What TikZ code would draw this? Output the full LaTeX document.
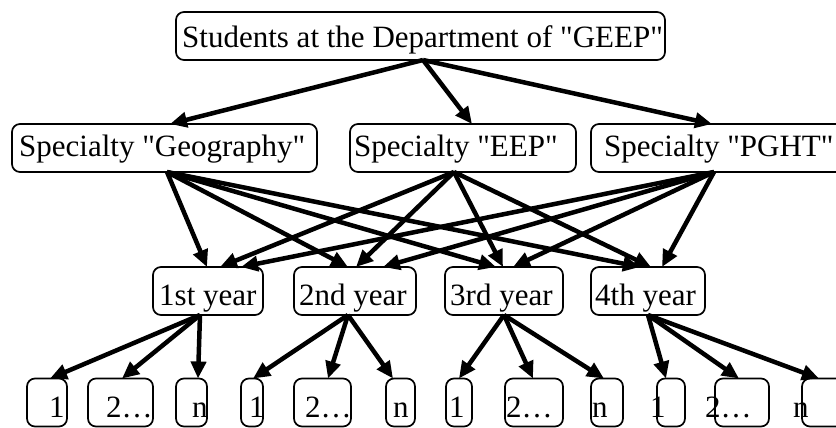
\documentclass[tikz,border=0pt]{standalone}
\usepackage{fontspec}
\setmainfont{Liberation Serif}[Ligatures=TeXOff]
\usetikzlibrary{arrows.meta}
\newcommand{\qq}{\symbol{34}}
\begin{document}
\begin{tikzpicture}[x=1pt,y=-1pt,
 box/.style={draw, line width=1.7pt, rounded corners=8pt, inner sep=0pt, outer sep=0pt, minimum height=48pt},
 lbl/.style={anchor=base west, inner sep=0pt, font=\fontsize{31}{37}\selectfont},
 arr/.style={line width=4.5pt, -{Triangle[length=17pt,width=15pt]}}]
\useasboundingbox (0,0) rectangle (836,428);
% boxes
\node[box, minimum width=489pt] (top) at (420.5,36) {};
\node[box, minimum width=305pt] (geo) at (164.5,148) {};
\node[box, minimum width=226pt] (eep) at (463,148) {};
\node[box, minimum width=259pt] (pght) at (720.5,148) {};
\node[box, minimum width=110pt] (yr1) at (208,291) {};
\node[box, minimum width=122pt] (yr2) at (355,291) {};
\node[box, minimum width=118pt] (yr3) at (504,291) {};
\node[box, minimum width=114pt] (yr4) at (648,291) {};
\begin{scope}[every node/.append style={minimum height=49pt}]
\node[box, minimum width=40pt] (b11) at (47,402.5) {};
\node[box, minimum width=65pt] (b12) at (120.5,402.5) {};
\node[box, minimum width=31pt] (b13) at (191.5,402.5) {};
\node[box, minimum width=22pt] (b21) at (252,402.5) {};
\node[box, minimum width=57pt] (b22) at (322.5,402.5) {};
\node[box, minimum width=29pt] (b23) at (400.5,402.5) {};
\node[box, minimum width=26pt] (b31) at (459,402.5) {};
\node[box, minimum width=58pt] (b32) at (534,402.5) {};
\node[box, minimum width=32pt] (b33) at (607,402.5) {};
\node[box, minimum width=28pt] (b41) at (671,402.5) {};
\node[box, minimum width=54pt] (b42) at (742,402.5) {};
\node[box, minimum width=48pt] (b43) at (826,402.5) {};
\end{scope}
% labels
\node[lbl] (ttop) at (182,48) {Students at the Department of \qq GEEP\qq};
\node[lbl] (tgeo) at (19,157) {Specialty \qq Geography\qq};
\node[lbl] (teep) at (354,157) {Specialty \qq EEP\qq};
\node[lbl] (tpght) at (604,157) {Specialty \qq PGHT\qq};
\node[lbl] (tyr1) at (159,305) {1st year};
\node[lbl] (tyr2) at (299,305) {2nd year};
\node[lbl] (tyr3) at (450,305) {3rd year};
\node[lbl] (tyr4) at (595,305) {4th year};
\node[lbl] (t11) at (49,417) {1};
\node[lbl] (t12) at (106,417) {2…};
\node[lbl] (t13) at (192,417) {n};
\node[lbl] (t21) at (249,417) {1};
\node[lbl] (t22) at (305,417) {2…};
\node[lbl] (t23) at (393,417) {n};
\node[lbl] (t31) at (449,417) {1};
\node[lbl] (t32) at (506,417) {2…};
\node[lbl] (t33) at (592,417) {n};
\node[lbl] (t41) at (650,417) {1};
\node[lbl] (t42) at (705,417) {2…};
\node[lbl] (t43) at (793,417) {n};
% arrows top -> specialties
\draw[arr] ([xshift=2.5pt]top.south) -- ([xshift=5.5pt]geo.north);
\draw[arr] ([xshift=2.5pt]top.south) -- ([xshift=9pt]eep.north);
\draw[arr] ([xshift=2.5pt]top.south) -- ([xshift=-8.5pt]pght.north);
% specialties -> years
\draw[arr] ([xshift=2.5pt]geo.south) -- ([xshift=-1pt]yr1.north);
\draw[arr] ([xshift=2.5pt]geo.south) -- ([xshift=-7pt]yr2.north);
\draw[arr] ([xshift=2.5pt]geo.south) -- ([xshift=-8pt]yr3.north);
\draw[arr] ([xshift=2.5pt]geo.south) -- ([xshift=-8pt]yr4.north);
\draw[arr] ([xshift=-9pt]eep.south) -- ([xshift=12pt]yr1.north);
\draw[arr] ([xshift=-9pt]eep.south) -- ([xshift=1pt]yr2.north);
\draw[arr] ([xshift=-9pt]eep.south) -- ([xshift=-1pt]yr3.north);
\draw[arr] ([xshift=-9pt]eep.south) -- ([xshift=3pt]yr4.north);
\draw[arr] ([xshift=-6.5pt]pght.south) -- ([xshift=33pt]yr1.north);
\draw[arr] ([xshift=-6.5pt]pght.south) -- ([xshift=28pt]yr2.north);
\draw[arr] ([xshift=-6.5pt]pght.south) -- ([xshift=9pt]yr3.north);
\draw[arr] ([xshift=-6.5pt]pght.south) -- ([xshift=14pt]yr4.north);
% years -> groups
\draw[arr] ([xshift=-8pt]yr1.south) -- ([xshift=3pt]b11.north);
\draw[arr] ([xshift=-8pt]yr1.south) -- ([xshift=1.5pt]b12.north);
\draw[arr] ([xshift=-8pt]yr1.south) -- ([xshift=6.5pt]b13.north);
\draw[arr] ([xshift=-7pt]yr2.south) -- ([xshift=1pt]b21.north);
\draw[arr] ([xshift=-7pt]yr2.south) -- ([xshift=5.5pt]b22.north);
\draw[arr] ([xshift=-7pt]yr2.south) -- ([xshift=-7.5pt]b23.north);
\draw[arr] (yr3.south) -- (b31.north);
\draw[arr] (yr3.south) -- ([xshift=-1pt]b32.north);
\draw[arr] (yr3.south) -- ([xshift=-3pt]b33.north);
\draw[arr] (yr4.south) -- ([xshift=-5pt]b41.north);
\draw[arr] (yr4.south) -- ([xshift=-3pt]b42.north);
\draw[arr] (yr4.south) -- ([xshift=-7pt]b43.north);
\end{tikzpicture}
\end{document}
